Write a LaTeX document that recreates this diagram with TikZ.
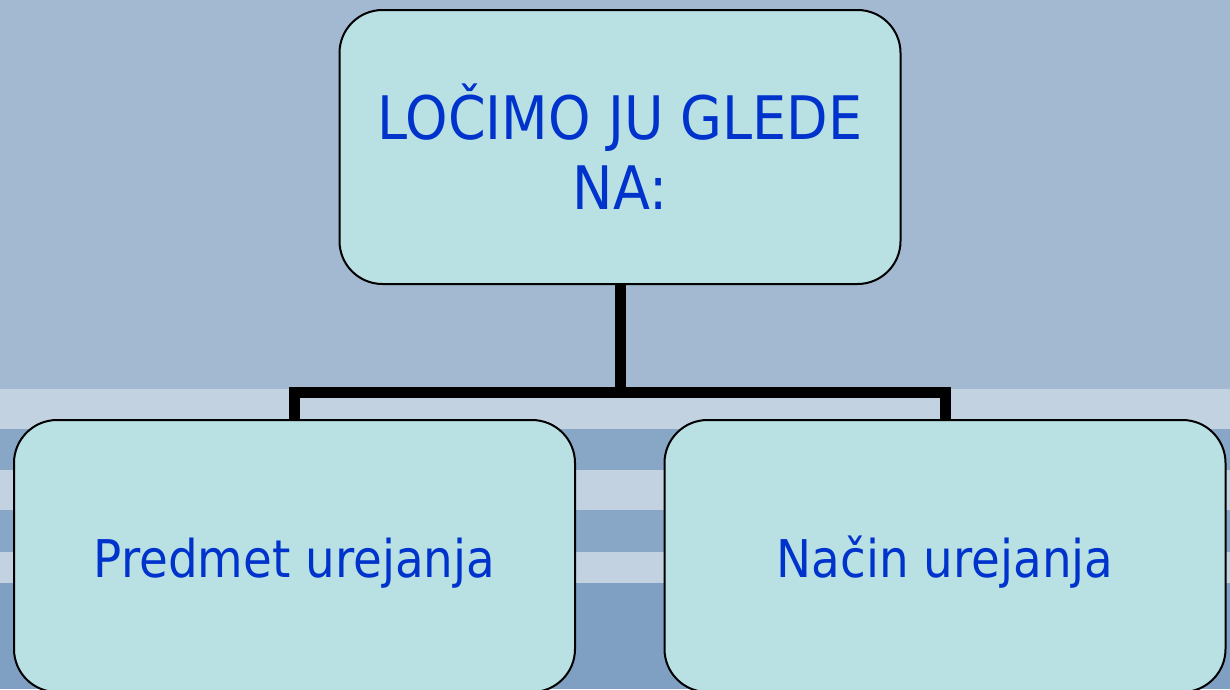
\documentclass[tikz,border=0pt]{standalone}
\usepackage{fontspec}
\setmainfont[FakeStretch=0.9]{DejaVu Sans}
\definecolor{bgtop}{HTML}{A3B9D1}
\definecolor{bglight}{HTML}{C2D2E1}
\definecolor{bgmid}{HTML}{88A6C5}
\definecolor{bgbot}{HTML}{7F9FC3}
\definecolor{boxfill}{HTML}{B9E0E3}
\definecolor{txt}{HTML}{0033CC}
\tikzset{
  box/.style={draw=black, line width=2pt, fill=boxfill, rounded corners=43pt,
    minimum width=561pt, inner sep=0pt, text=txt, align=center},
  lowbox/.style={box, minimum height=272pt, font=\fontsize{52}{60}\selectfont,
    text height=42pt, text depth=0pt},
  conn/.style={draw=black, line width=11pt, line join=miter}
}
\begin{document}
\begin{tikzpicture}[x=1pt,y=-1pt]
\useasboundingbox (0,0) rectangle (1230,689);
% background
\fill[bgtop] (0,0) rectangle (1230,389);
\fill[bglight] (0,389) rectangle (1230,429);
\fill[bgmid] (0,429) rectangle (1230,470);
\fill[bglight] (0,470) rectangle (1230,510);
\fill[bgmid] (0,510) rectangle (1230,552);
\fill[bglight] (0,552) rectangle (1230,583);
\fill[bgbot] (0,583) rectangle (1230,689);
% boxes
\node[box, minimum height=274pt, font=\fontsize{60}{70}\selectfont] (T) at (620,147) {LOČIMO JU GLEDE\\NA:};
\node[lowbox] (L) at (294.5,556) {Predmet urejanja};
\node[lowbox] (R) at (945,556) {Način urejanja};
% connectors
\coordinate (J) at (620,392);
\draw[conn] (T.south) -- (J);
\draw[conn] (L.north) |- (J) -| (R.north);
\end{tikzpicture}
\end{document}
